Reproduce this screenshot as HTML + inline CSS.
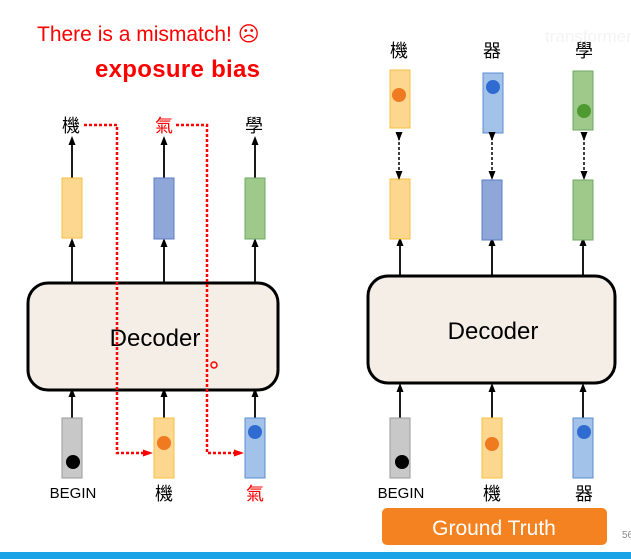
<!DOCTYPE html>
<html><head><meta charset="utf-8"><style>
body{margin:0;background:#fff;width:631px;height:559px;overflow:hidden}
svg{display:block}
text{font-family:"Liberation Sans","Noto Sans CJK TC",sans-serif}
</style></head><body>
<svg width="631" height="559" viewBox="0 0 631 559" xmlns="http://www.w3.org/2000/svg">
<defs>
<marker id="a" markerUnits="userSpaceOnUse" markerWidth="9" markerHeight="9" refX="5" refY="4.5" orient="auto"><path d="M0,1 L9,4.5 L0,8z" fill="#000"/></marker>
<marker id="r" markerUnits="userSpaceOnUse" markerWidth="10" markerHeight="10" refX="5" refY="5" orient="auto"><path d="M0,1.5 L10,5 L0,8.5z" fill="#f00"/></marker>
</defs>
<rect x="0" y="552" width="631" height="7" fill="#1aa3e6"/>
<text x="37" y="41" font-size="21" fill="#f00">There is a mismatch! ☹</text>
<text x="95" y="77" font-size="24" font-weight="bold" fill="#f00" textLength="165">exposure bias</text>
<text x="545" y="42" font-size="17" fill="#f4f4f4">transformer</text>
<g stroke="#000" stroke-width="1.8" marker-end="url(#a)">
<line x1="72" y1="178" x2="72" y2="140"/><line x1="164" y1="178" x2="164" y2="140"/><line x1="255" y1="178" x2="255" y2="140"/>
<line x1="72" y1="283" x2="72" y2="242"/><line x1="164" y1="283" x2="164" y2="242"/><line x1="255" y1="283" x2="255" y2="242"/>
<line x1="72" y1="418" x2="72" y2="392"/><line x1="164" y1="418" x2="164" y2="392"/><line x1="255" y1="418" x2="255" y2="392"/>
<line x1="400" y1="275" x2="400" y2="241"/><line x1="492" y1="275" x2="492" y2="241"/><line x1="583" y1="275" x2="583" y2="241"/>
<line x1="400" y1="418" x2="400" y2="387"/><line x1="492" y1="418" x2="492" y2="387"/><line x1="583" y1="418" x2="583" y2="387"/>
</g>
<rect x="28" y="283" width="250" height="107" rx="20" fill="#f4eee6" stroke="#000" stroke-width="3"/>
<text x="155" y="346" font-size="24" text-anchor="middle">Decoder</text>
<rect x="368" y="276" width="247" height="107" rx="20" fill="#f4eee6" stroke="#000" stroke-width="3"/>
<text x="493" y="339" font-size="24" text-anchor="middle">Decoder</text>
<g stroke-width="1">
<rect x="62" y="178" width="20" height="60" fill="#fdd790" stroke="#f5c040"/>
<rect x="154" y="178" width="20" height="61" fill="#8fa6d8" stroke="#5b7ec4"/>
<rect x="245" y="178" width="20" height="61" fill="#9fc98a" stroke="#6fa860"/>
<rect x="62" y="418" width="20" height="60" fill="#c8c8c8" stroke="#999"/>
<rect x="154" y="418" width="20" height="60" fill="#fdd790" stroke="#f5c040"/>
<rect x="245" y="418" width="20" height="60" fill="#a2c2ea" stroke="#5b8fd0"/>
<rect x="390" y="70" width="20" height="58" fill="#fdd790" stroke="#f5c040"/>
<rect x="483" y="73" width="20" height="60" fill="#a2c2ea" stroke="#5b8fd0"/>
<rect x="573" y="71" width="20" height="59" fill="#9fc98a" stroke="#6fa860"/>
<rect x="390" y="179" width="20" height="60" fill="#fdd790" stroke="#f5c040"/>
<rect x="482" y="180" width="20" height="60" fill="#8fa6d8" stroke="#5b7ec4"/>
<rect x="573" y="180" width="20" height="60" fill="#9fc98a" stroke="#6fa860"/>
<rect x="390" y="418" width="20" height="60" fill="#c8c8c8" stroke="#999"/>
<rect x="482" y="418" width="20" height="60" fill="#fdd790" stroke="#f5c040"/>
<rect x="573" y="418" width="20" height="60" fill="#a2c2ea" stroke="#5b8fd0"/>
</g>
<circle cx="73" cy="462" r="7" fill="#000"/>
<circle cx="164" cy="443" r="7" fill="#f07a20"/>
<circle cx="255" cy="432" r="7" fill="#2f6bd0"/>
<circle cx="399" cy="95" r="7" fill="#f07a20"/>
<circle cx="493" cy="87" r="7" fill="#2f6bd0"/>
<circle cx="584" cy="111" r="7" fill="#4e9a30"/>
<circle cx="402" cy="462" r="7" fill="#000"/>
<circle cx="492" cy="444" r="7" fill="#f07a20"/>
<circle cx="584" cy="432" r="7" fill="#2f6bd0"/>
<g stroke="#000" stroke-width="1.5" stroke-dasharray="3,2" marker-start="url(#a)" marker-end="url(#a)">
<line x1="399" y1="137" x2="399" y2="176"/><line x1="492" y1="137" x2="492" y2="176"/><line x1="584" y1="137" x2="584" y2="176"/>
</g>
<g fill="none" stroke="#f00" stroke-width="2.5" stroke-dasharray="3,2">
<polyline points="84,125 117,125 117,453 148,453" marker-end="url(#r)"/>
<polyline points="176,125 207,125 207,453 239,453" marker-end="url(#r)"/>
</g>
<circle cx="214" cy="365" r="3" fill="none" stroke="#f00" stroke-width="1.5"/>
<g font-size="18" text-anchor="middle">
<text x="71" y="132">機</text><text x="164" y="132" fill="#f00">氣</text><text x="254" y="132">學</text>
<text x="399" y="57">機</text><text x="492" y="57">器</text><text x="584" y="57">學</text>
<text x="164" y="500">機</text><text x="255" y="500" fill="#f00">氣</text>
<text x="492" y="500">機</text><text x="584" y="500">器</text>
</g>
<g font-size="15" text-anchor="middle"><text x="73" y="498">BEGIN</text><text x="401" y="498">BEGIN</text></g>
<rect x="382" y="508" width="225" height="37" rx="5" fill="#f58220"/>
<text x="494" y="535" font-size="21" fill="#fff" text-anchor="middle">Ground Truth</text>
<text x="622" y="538" font-size="10" fill="#888">56</text>
</svg>
</body></html>
